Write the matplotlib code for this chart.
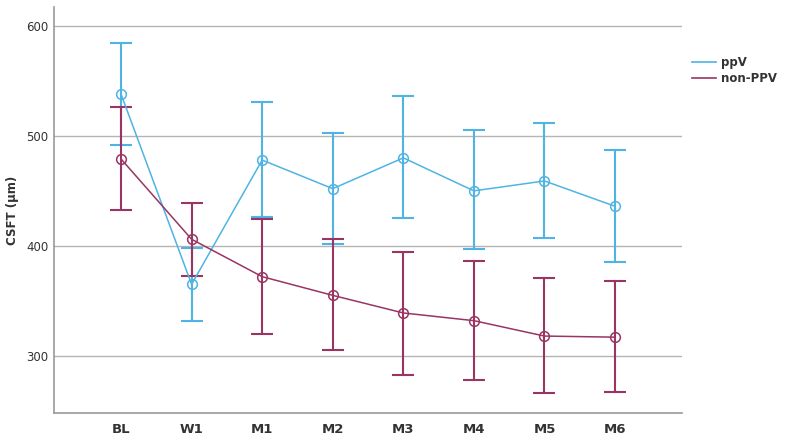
"""CSFT over time, ppV vs non-PPV, mean with error bars."""

import matplotlib
matplotlib.use("Agg")
import matplotlib.pyplot as plt
from matplotlib.lines import Line2D
import numpy as np

visits = ["BL", "W1", "M1", "M2", "M3", "M4", "M5", "M6"]

ppv_mean = [538, 365, 478, 452, 480, 450, 459, 436]
ppv_upper = [584, 398, 531, 503, 536, 505, 512, 487]
ppv_lower = [492, 332, 426, 402, 425, 397, 407, 385]

nonppv_mean = [479, 406, 372, 355, 339, 332, 318, 317]
nonppv_upper = [526, 439, 424, 406, 394, 386, 371, 368]
nonppv_lower = [433, 373, 320, 305, 283, 278, 266, 267]

C_PPV = "#4fb4e3"
C_NON = "#9a3462"


def draw_series(ax, x, mean, lower, upper, color):
    mean = np.array(mean)
    yerr = [mean - np.array(lower), np.array(upper) - mean]
    ax.errorbar(x, mean, yerr=yerr, fmt="none", ecolor=color, elinewidth=1.5,
                capsize=8, capthick=1.5, zorder=3)
    ax.plot(x, mean, color=color, linewidth=1.1, marker="o", markersize=7,
            markerfacecolor="none", markeredgecolor=color, markeredgewidth=1.1, zorder=4)


fig = plt.figure(figsize=(7.94, 4.48), dpi=100)
ax = fig.add_axes([0.068, 0.078, 0.791, 0.906])
x = np.arange(len(visits))

for yv in [300, 400, 500, 600]:
    ax.axhline(yv, color="#b4b4b4", linewidth=1.0, zorder=1)

draw_series(ax, x, ppv_mean, ppv_lower, ppv_upper, C_PPV)
draw_series(ax, x, nonppv_mean, nonppv_lower, nonppv_upper, C_NON)

ax.set_xlim(-0.95, 7.95)
ax.set_ylim(248, 617)
ax.set_xticks(x)
ax.set_xticklabels(visits, fontsize=9.5, fontweight="bold", color="#333333")
ax.set_yticks([300, 400, 500, 600])
ax.set_yticklabels(["300", "400", "500", "600"], fontsize=8.5, color="#333333")
ax.tick_params(axis="y", length=0, pad=4)
ax.tick_params(axis="x", length=0, pad=7)
ax.set_ylabel("CSFT (µm)", fontsize=8.5, fontweight="bold", color="#333333")
ax.yaxis.set_label_coords(-0.055, 0.5)

for side in ["top", "right"]:
    ax.spines[side].set_visible(False)
for side in ["left", "bottom"]:
    ax.spines[side].set_color("#999999")
    ax.spines[side].set_linewidth(1.2)

handles = [
    Line2D([0], [0], color=C_PPV, linewidth=1.2, label="ppV"),
    Line2D([0], [0], color=C_NON, linewidth=1.2, label="non-PPV"),
]
leg = fig.legend(handles=handles, loc="upper left", bbox_to_anchor=(0.872, 0.875),
                 frameon=False, fontsize=8.5, handlelength=2.0, handletextpad=0.4,
                 labelspacing=0.25, borderpad=0, borderaxespad=0)
for t in leg.get_texts():
    t.set_fontweight("semibold")
    t.set_color("#333333")

fig.savefig("out.png", dpi=100)
